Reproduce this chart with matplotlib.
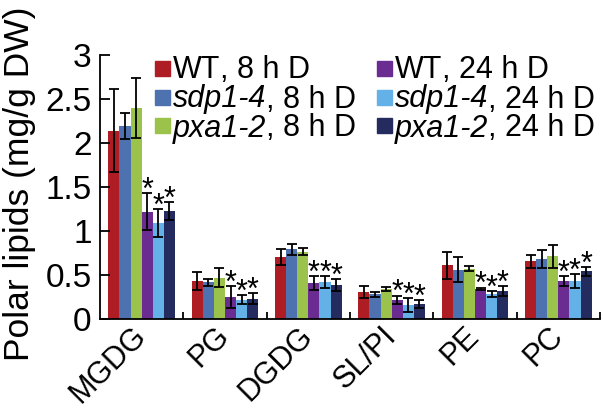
# Polar lipid contents, 8 h vs 24 h dark
import numpy as np
import matplotlib
matplotlib.use('Agg')
import matplotlib.pyplot as plt
from matplotlib.patches import Rectangle

plt.rcParams['font.family'] = ['Liberation Sans', 'DejaVu Sans']

# data (mg/g DW)
categories = ['MGDG', 'PG', 'DGDG', 'SL/PI', 'PE', 'PC']
wt8 = [2.14, 0.43, 0.70, 0.31, 0.61, 0.655]
wt8_err = [0.47, 0.10, 0.09, 0.07, 0.15, 0.07]
sdp8 = [2.19, 0.42, 0.79, 0.28, 0.56, 0.68]
sdp8_err = [0.15, 0.04, 0.06, 0.03, 0.14, 0.10]
pxa8 = [2.40, 0.47, 0.765, 0.34, 0.57, 0.715]
pxa8_err = [0.34, 0.11, 0.04, 0.025, 0.03, 0.13]
wt24 = [1.22, 0.25, 0.41, 0.215, 0.345, 0.43]
wt24_err = [0.21, 0.12, 0.08, 0.05, 0.01, 0.06]
sdp24 = [1.09, 0.22, 0.42, 0.16, 0.28, 0.43]
sdp24_err = [0.16, 0.05, 0.07, 0.08, 0.035, 0.08]
pxa24 = [1.23, 0.23, 0.385, 0.17, 0.32, 0.54]
pxa24_err = [0.10, 0.065, 0.07, 0.045, 0.055, 0.05]

series = [wt8, sdp8, pxa8, wt24, sdp24, pxa24]
errors = [wt8_err, sdp8_err, pxa8_err, wt24_err, sdp24_err, pxa24_err]
signif = [False, False, False, True, True, True]
colors = ['#AE1D23', '#4E72B0', '#9BC24A', '#6B2C91', '#63B1E6', '#242B5E']
leg_genotype = ['WT', 'sdp1-4', 'pxa1-2', 'WT', 'sdp1-4', 'pxa1-2']
leg_italic = [False, True, True, False, True, True]
leg_time = [', 8 h D', ', 8 h D', ', 8 h D', ', 24 h D', ', 24 h D', ', 24 h D']

yticks = [0, 0.5, 1, 1.5, 2, 2.5, 3]
ytick_labels = ['0', '0.5', '1', '1.5', '2', '2.5', '3']

fig = plt.figure(figsize=(6.03, 4.09), dpi=100)
ax = fig.add_axes([100 / 603, 1 - 319 / 409, 500 / 603, 264 / 409])

x = np.arange(len(categories))
n = len(series)
w = 0.8 / n
for i in range(n):
    pos = x - 0.4 + w * (i + 0.5)
    ax.bar(pos, series[i], width=w, color=colors[i], edgecolor='none')
    ax.errorbar(pos, series[i], yerr=errors[i], fmt='none', ecolor='black',
                elinewidth=1.3, capsize=3.5, capthick=1.3)
    if signif[i]:
        for p, v, e in zip(pos, series[i], errors[i]):
            ax.annotate('*', (p, v + e), xytext=(0, -4), textcoords='offset points',
                        ha='center', va='baseline', fontsize=22)

ax.set_xlim(-0.5, len(categories) - 0.5)
ax.set_ylim(0, 3)
ax.spines['top'].set_visible(False)
ax.spines['right'].set_visible(False)
ax.spines['left'].set_linewidth(1.3)
ax.spines['bottom'].set_linewidth(1.3)

ax.set_yticks(yticks)
ax.set_yticklabels(ytick_labels)
ax.tick_params(axis='y', direction='in', length=7, width=1.3, labelsize=24, pad=6)

ax.set_xticks(x)
ax.set_xticklabels(categories, rotation=45, ha='right', va='center',
                   rotation_mode='anchor')
ax.tick_params(axis='x', which='major', length=0, labelsize=22, pad=9)
ax.set_xticks(np.arange(0.5, len(categories)), minor=True)
ax.tick_params(axis='x', which='minor', direction='in', length=5, width=1.3)

ax.set_ylabel('Polar lipids (mg/g DW)', fontsize=25.5)
ax.yaxis.set_label_coords(-0.128, 0.511)

# legend, built by hand so the genotype part can be italic
fig.canvas.draw()
renderer = fig.canvas.get_renderer()
col_x = [155, 377]
row_y = [68, 97, 126]
for i in range(n):
    cx = col_x[i // 3]
    cy = row_y[i % 3]
    fig.add_artist(Rectangle((cx / 603, 1 - (cy + 7.5) / 409), 15 / 603, 15 / 409,
                             transform=fig.transFigure, color=colors[i]))
    t1 = fig.text((cx + 18) / 603, 1 - (cy + 10.5) / 409, leg_genotype[i],
                  fontsize=22, style='italic' if leg_italic[i] else 'normal',
                  va='baseline', ha='left')
    bb = t1.get_window_extent(renderer)
    fig.text(bb.x1 / fig.bbox.width, 1 - (cy + 10.5) / 409, leg_time[i],
             fontsize=22, va='baseline', ha='left')

fig.savefig('out.png', dpi=100)
